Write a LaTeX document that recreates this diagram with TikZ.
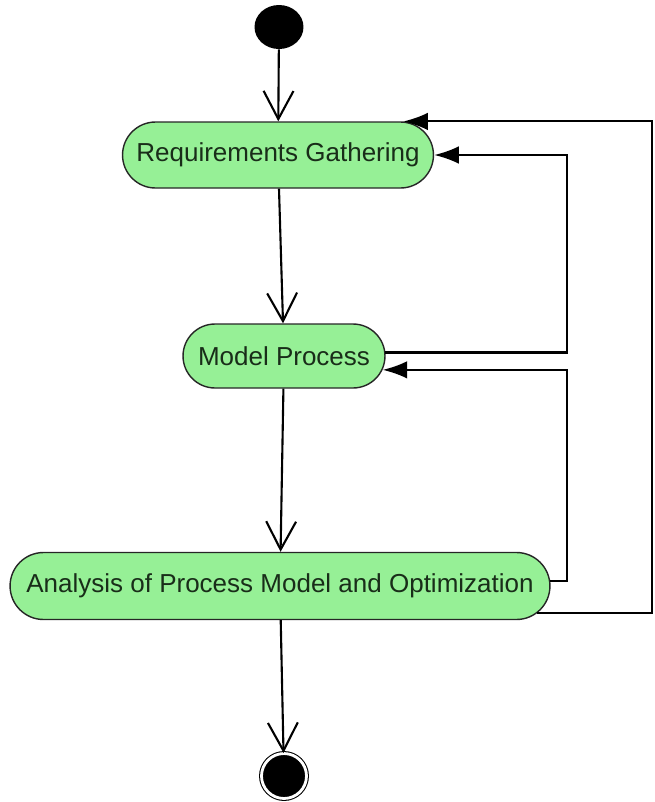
\documentclass[tikz,border=0pt]{standalone}
\usepackage{fontspec}
\setmainfont{Liberation Sans}
\usetikzlibrary{shapes.misc,shapes.geometric,arrows.meta}
\definecolor{actgreen}{RGB}{150,240,150}
\definecolor{acttext}{RGB}{25,45,25}

\begin{document}
\begin{tikzpicture}[x=0.02cm,y=-0.02cm,
    activity/.style={rounded rectangle,draw=black!85,line width=0.8pt,fill=actgreen,
      text=acttext,font=\fontsize{14.8}{17}\selectfont,inner sep=0pt},
    flow/.style={line width=1.2pt,-{Straight Barb[length=16pt,width=17pt]}},
    back/.style={line width=1.2pt,-{Latex[length=14pt,width=10pt]}}]
  \useasboundingbox (0,0) rectangle (654,802);

  \node[ellipse,fill=black,minimum width=0.98cm,minimum height=0.88cm,inner sep=0pt] (start) at (279,27) {};
  \node[activity,minimum width=6.22cm,minimum height=1.32cm] (req) at (278,155) {Requirements Gathering};
  \node[activity,minimum width=4.04cm,minimum height=1.28cm] (model) at (284,356) {Model Process};
  \node[activity,minimum width=10.8cm,minimum height=1.34cm] (analysis) at (280,586) {Analysis of Process Model and Optimization};
  \node[circle,draw,line width=0.6pt,double=white,double distance=1.6pt,fill=black,
        minimum size=0.9cm,inner sep=0pt] (end) at (284,776) {};

  \coordinate (inner) at (567,0);
  \coordinate (outer) at (652,0);

  \draw[flow] (start) -- (req);
  \draw[flow] (req) -- (model);
  \draw[flow] (model) -- (analysis);
  \draw[flow] (analysis) -- (end);

  % loops back
  \draw[back] (model.2) -- (model.2 -| inner) -- (req.east -| inner) -- (req.east);
  \draw[back] (analysis.1) -- (analysis.1 -| inner) -- (model.-8 -| inner) -- (model.-8);
  \draw[back] (analysis.-6) -- (analysis.-6 -| outer) -- (req.15 -| outer) -- (req.15);
\end{tikzpicture}
\end{document}
